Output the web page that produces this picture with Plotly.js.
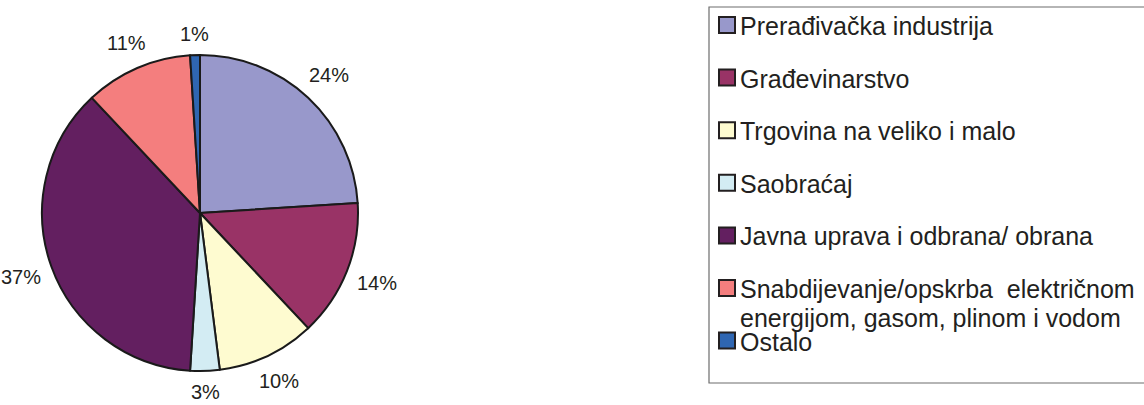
<!DOCTYPE html>
<html>
<head>
<meta charset="utf-8">
<script src="https://cdn.plot.ly/plotly-3.0.1.min.js"></script>
<style>html,body{margin:0;padding:0;background:#fff;}#chart{width:1144px;height:405px;}</style>
</head>
<body>
<div id="chart"></div>
<script>
const categories = [
  "Prerađivačka industrija",
  "Građevinarstvo",
  "Trgovina na veliko i malo",
  "Saobraćaj",
  "Javna uprava i odbrana/ obrana",
  "Snabdijevanje/opskrba  električnom<br>energijom, gasom, plinom i vodom",
  "Ostalo"
];
const shares = [24, 14, 10, 3, 37, 11, 1];
const colors = ["#9898CB", "#993366", "#FEFBD0", "#D3ECF3", "#631F60", "#F47E7E", "#2F66B2"];

const W = 1144, H = 405;
const px = x => x / W;
const py = y => 1 - y / H;

// pie geometry (pixels)
const cx = 200, cy = 213, r = 158;

const FONT = "Liberation Sans, Arial, sans-serif";
const TXT = "#231F20";
const LBL = 20, LEG = 25;

const trace = {
  type: "pie",
  labels: categories,
  values: shares,
  sort: false,
  direction: "clockwise",
  rotation: 0,
  marker: {colors: colors, line: {color: "#1a1a1a", width: 2}},
  textinfo: "none",
  automargin: false,
  showlegend: false,
  hoverinfo: "label+percent",
  domain: {x: [px(cx - r), px(cx + r)], y: [py(cy + r), py(cy - r)]}
};

const shapes = [];
const annotations = [];

// percentage labels outside each slice, placed from the data
const total = shares.reduce((a, b) => a + b, 0);
let cum = 0;
shares.forEach(v => {
  const mid = (cum + v / 2) / total * 2 * Math.PI;
  cum += v;
  const txt = Math.round(v / total * 100) + "%";
  const w = txt.length * 0.6 * LBL, h = LBL * 0.9;
  const s = Math.sin(mid), c = Math.cos(mid);
  const d = r + 12 + Math.abs(s) * w / 2 + Math.abs(c) * h / 2;
  annotations.push({
    xref: "paper", yref: "paper",
    x: px(cx + d * s), y: py(cy - d * c),
    xanchor: "center", yanchor: "middle",
    text: txt, showarrow: false,
    font: {family: FONT, size: LBL, color: TXT}
  });
});

// legend built from categories/colors
shapes.push({
  type: "rect", xref: "paper", yref: "paper",
  x0: px(709), x1: px(1150), y0: py(383), y1: py(7),
  line: {color: "#6d6d6d", width: 1.2}, fillcolor: "rgba(0,0,0,0)"
});
const rowStart = 25, rowStep = 52.6, lineStep = 29;
categories.forEach((cat, i) => {
  const yc = rowStart + rowStep * i;
  shapes.push({
    type: "rect", xref: "paper", yref: "paper",
    x0: px(719), x1: px(735), y0: py(yc + 8), y1: py(yc - 8),
    fillcolor: colors[i], line: {color: "#231F20", width: 2}
  });
  cat.split("<br>").forEach((line, j) => {
    annotations.push({
      xref: "paper", yref: "paper",
      x: px(738), y: py(yc + 1 + lineStep * j),
      xanchor: "left", yanchor: "middle", align: "left",
      text: line, showarrow: false,
      font: {family: FONT, size: LEG, color: TXT}
    });
  });
});

const layout = {
  width: W, height: H,
  margin: {l: 0, r: 0, t: 0, b: 0},
  paper_bgcolor: "#fff",
  showlegend: false,
  shapes: shapes,
  annotations: annotations
};

Plotly.newPlot("chart", [trace], layout, {displayModeBar: false, staticPlot: true});
</script>
</body>
</html>
